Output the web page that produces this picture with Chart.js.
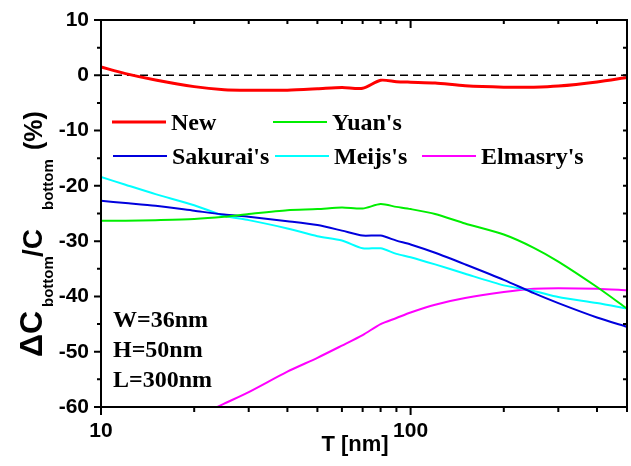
<!DOCTYPE html>
<html>
<head>
<meta charset="utf-8">
<script src="https://cdn.jsdelivr.net/npm/chart.js@4.4.1/dist/chart.umd.min.js"></script>
<style>
  html, body { margin: 0; padding: 0; background: #fff; }
  canvas { display: block; }
</style>
</head>
<body>
<canvas id="chart" width="631" height="466"></canvas>
<script>
// T [nm] sample points
const thickness = [10, 12, 15, 20, 25, 30, 40, 50, 60, 70, 80, 90, 100, 120, 150, 200, 250, 300, 400, 500];

// dC_bottom / C_bottom (%) for each model
const newModel  = [1.5, 0.3, -0.85, -2.05, -2.6, -2.7, -2.7, -2.45, -2.2, -2.35, -0.9, -1.15, -1.25, -1.4, -1.9, -2.15, -2.15, -1.95, -1.2, -0.4];
const yuanModel = [-26.3, -26.3, -26.2, -26.0, -25.6, -25.1, -24.4, -24.2, -23.9, -24.1, -23.3, -23.8, -24.2, -25.1, -26.8, -28.8, -31.2, -33.7, -38.3, -42.2];
const sakuraiModel = [-22.7, -23.1, -23.6, -24.5, -25.2, -25.6, -26.4, -27.1, -28.1, -29.0, -29.0, -29.9, -30.6, -32.1, -34.2, -37.0, -39.4, -41.2, -43.8, -45.5];
const meijsModel = [-18.4, -19.8, -21.5, -23.5, -25.4, -26.2, -27.7, -29.1, -29.9, -31.3, -31.3, -32.3, -32.9, -34.2, -35.9, -38.0, -39.0, -40.1, -41.2, -42.2];
const elmasryModel = [null, null, null, -62.0, -59.4, -57.3, -53.6, -51.1, -48.9, -47.0, -45.0, -43.9, -42.9, -41.5, -40.3, -39.2, -38.6, -38.5, -38.6, -38.9];

const seriesNames = ['New', "Yuan's", "Sakurai's", "Meijs's", "Elmasry's"];
const seriesColors = ['#ff0000', '#00ee00', '#0000dd', '#00ffff', '#ff00ff'];
const seriesWidths = [3, 2, 2, 2, 2];

const xMajorTicks = [10, 100];
const xMinorTicks = [20, 30, 40, 50, 60, 70, 80, 90, 200, 300, 400, 500];
const yMajorTicks = [10, 0, -10, -20, -30, -40, -50, -60];
const yMinorTicks = [5, -5, -15, -25, -35, -45, -55];

const notes = ['W=36nm', 'H=50nm', 'L=300nm'];

const allSeries = [newModel, yuanModel, sakuraiModel, meijsModel, elmasryModel];

function toPoints(values) {
    return thickness.map((t, i) => ({ x: t, y: values[i] }));
}

const datasets = allSeries.map((vals, i) => ({
    label: seriesNames[i],
    data: toPoints(vals),
    borderColor: seriesColors[i],
    borderWidth: seriesWidths[i],
    pointRadius: 0,
    tension: 0.25,
    fill: false
}));

// zero reference line
datasets.push({
    label: 'zero',
    data: [{ x: 10, y: 0 }, { x: 500, y: 0 }],
    borderColor: '#000',
    borderWidth: 1.5,
    borderDash: [8, 5],
    pointRadius: 0
});

const tickFont = { family: 'Liberation Sans, Arial, sans-serif', size: 21, weight: 'bold' };

// frame + tick marks on all four sides
const framePlugin = {
    id: 'frame',
    afterDatasetsDraw(chart) {
        const { ctx, chartArea: a, scales: { x, y } } = chart;
        ctx.save();
        ctx.strokeStyle = '#000';
        ctx.lineWidth = 2;
        ctx.strokeRect(a.left, a.top, a.right - a.left, a.bottom - a.top);
        ctx.beginPath();
        xMajorTicks.forEach(v => {
            const px = x.getPixelForValue(v);
            ctx.moveTo(px, a.bottom); ctx.lineTo(px, a.bottom + 8);
            ctx.moveTo(px, a.top); ctx.lineTo(px, a.top + 8);
        });
        xMinorTicks.forEach(v => {
            const px = x.getPixelForValue(v);
            ctx.moveTo(px, a.bottom); ctx.lineTo(px, a.bottom + 5);
            ctx.moveTo(px, a.top); ctx.lineTo(px, a.top + 4);
        });
        yMajorTicks.forEach(v => {
            const py = y.getPixelForValue(v);
            ctx.moveTo(a.left - 7, py); ctx.lineTo(a.left, py);
            ctx.moveTo(a.right - 4, py); ctx.lineTo(a.right, py);
        });
        yMinorTicks.forEach(v => {
            const py = y.getPixelForValue(v);
            ctx.moveTo(a.left - 4, py); ctx.lineTo(a.left, py);
            ctx.moveTo(a.right - 4, py); ctx.lineTo(a.right, py);
        });
        ctx.stroke();
        ctx.restore();
    }
};

// axis titles, legend and the geometry notes
const textPlugin = {
    id: 'texts',
    afterDraw(chart) {
        const { ctx } = chart;
        ctx.save();
        ctx.fillStyle = '#000';

        // x title
        ctx.font = 'bold 22px "Liberation Sans", Arial, sans-serif';
        ctx.textAlign = 'center';
        ctx.textBaseline = 'alphabetic';
        ctx.fillText('T [nm]', 355, 451);

        // y title, rotated, with subscripts
        ctx.save();
        ctx.rotate(-Math.PI / 2);
        ctx.textAlign = 'left';
        const parts = [
            { text: '\u0394C', font: 'bold 32px "Liberation Sans", Arial, sans-serif', start: 357, base: 42 },
            { text: 'bottom', font: 'bold 15px "Liberation Sans", Arial, sans-serif', start: 307, base: 53 },
            { text: '/C', font: 'bold 28px "Liberation Sans", Arial, sans-serif', start: 257, base: 42 },
            { text: 'bottom', font: 'bold 15px "Liberation Sans", Arial, sans-serif', start: 210, base: 53 },
            { text: '(%)', font: 'bold 25px "Liberation Sans", Arial, sans-serif', start: 150, base: 42 }
        ];
        parts.forEach(p => {
            ctx.font = p.font;
            ctx.fillText(p.text, -p.start, p.base);
        });
        ctx.restore();

        // legend
        const slots = [
            { x: 112, y: 122 }, { x: 273, y: 122 },
            { x: 113, y: 156 }, { x: 275, y: 156 }, { x: 422, y: 156 }
        ];
        ctx.font = 'bold 24px "Liberation Serif", "Times New Roman", serif';
        ctx.textAlign = 'left';
        slots.forEach((s, k) => {
            const ds = chart.data.datasets[k];
            ctx.strokeStyle = ds.borderColor;
            ctx.lineWidth = ds.borderWidth;
            ctx.beginPath();
            ctx.moveTo(s.x, s.y);
            ctx.lineTo(s.x + 54, s.y);
            ctx.stroke();
            ctx.fillText(ds.label, s.x + 59, s.y + 7.5);
        });

        // notes
        notes.forEach((n, i) => {
            ctx.fillText(n, 113, 327 + i * 30);
        });
        ctx.restore();
    }
};

const chart = new Chart(document.getElementById('chart'), {
    type: 'line',
    data: { datasets },
    options: {
        responsive: false,
        animation: false,
        devicePixelRatio: 1,
        layout: { padding: { top: 20, right: 4, left: 0, bottom: 0 } },
        plugins: { legend: { display: false }, tooltip: { enabled: false } },
        scales: {
            x: {
                type: 'logarithmic',
                min: 10,
                max: 500,
                position: 'bottom',
                grid: { display: false, drawTicks: true, tickLength: 8 },
                border: { display: false },
                afterBuildTicks: s => { s.ticks = xMajorTicks.map(v => ({ value: v })); },
                afterFit: s => { s.height = 59; },
                ticks: {
                    font: tickFont,
                    color: '#000',
                    padding: 4,
                    maxRotation: 0,
                    autoSkip: false,
                    callback: v => String(v)
                }
            },
            y: {
                type: 'linear',
                min: -60,
                max: 10,
                grid: { display: false, drawTicks: true, tickLength: 7 },
                border: { display: false },
                afterBuildTicks: s => { s.ticks = yMajorTicks.map(v => ({ value: v })); },
                afterFit: s => { s.width = 101; },
                ticks: {
                    font: tickFont,
                    color: '#000',
                    padding: 5,
                    callback: v => String(v)
                }
            }
        }
    },
    plugins: [framePlugin, textPlugin]
});
</script>
</body>
</html>
